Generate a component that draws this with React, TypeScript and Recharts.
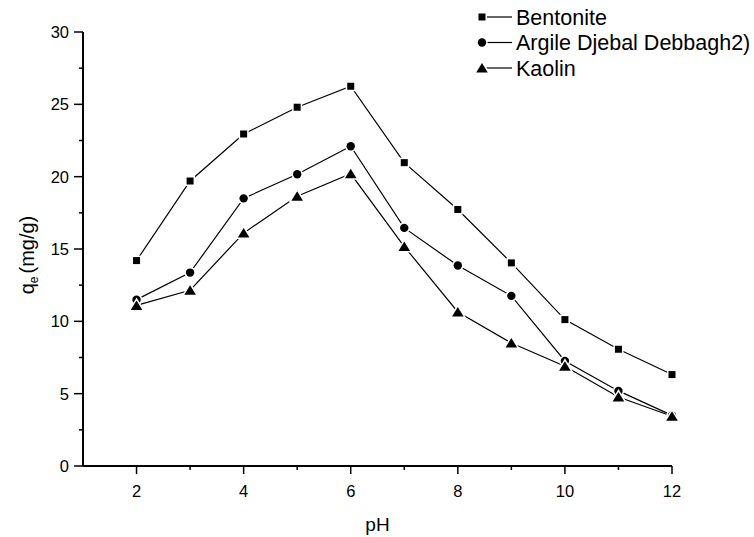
import React from 'react';
import { LineChart, Line, XAxis, YAxis, Legend, Label } from 'recharts';

const phValues = [2, 3, 4, 5, 6, 7, 8, 9, 10, 11, 12];
const bentonite = [14.2, 19.7, 22.95, 24.8, 26.25, 20.97, 17.73, 14.04, 10.12, 8.07, 6.32];
const argile = [11.5, 13.37, 18.5, 20.17, 22.1, 16.46, 13.86, 11.76, 7.26, 5.19, 3.5];
const kaolin = [11.1, 12.15, 16.1, 18.65, 20.2, 15.17, 10.65, 8.5, 6.9, 4.77, 3.44];

const seriesNames = ['Bentonite', 'Argile Djebal Debbagh2)', 'Kaolin'];
const xTicks = [2, 3, 4, 5, 6, 7, 8, 9, 10, 11, 12];
const yTicks = [0, 2.5, 5, 7.5, 10, 12.5, 15, 17.5, 20, 22.5, 25, 27.5, 30];

const data = phValues.map((ph, i) => ({
    ph,
    bentonite: bentonite[i],
    argile: argile[i],
    kaolin: kaolin[i],
}));

const FONT = '"Liberation Sans", Arial, sans-serif';
const Y_MARGIN = 12;
const X_MARGIN = 12;

// marker shapes, with a white halo so the lines stop short of them
const square = (cx: number, cy: number, key?: any) => (
    <rect key={key} x={cx - 3.5} y={cy - 3.5} width={7} height={7} fill="#000"
        stroke="#fff" strokeWidth={3} paintOrder="stroke" />
);
const circle = (cx: number, cy: number, key?: any) => (
    <circle key={key} cx={cx} cy={cy} r={4.2} fill="#000"
        stroke="#fff" strokeWidth={3} paintOrder="stroke" />
);
const triangle = (cx: number, cy: number, key?: any) => (
    <polygon key={key}
        points={`${cx},${cy - 5} ${cx - 5.8},${cy + 4.5} ${cx + 5.8},${cy + 4.5}`}
        fill="#000" stroke="#fff" strokeWidth={3} paintOrder="stroke" />
);

const markers = [square, circle, triangle];

const makeDot = (shape: typeof square) => (p: any) => {
    if (p.cx == null || p.cy == null) return <g key={p.key} />;
    return shape(p.cx, p.cy, p.key);
};

const YTick = (props: any) => {
    const { x, y, payload } = props;
    const v = payload.value;
    const major = v % 5 === 0;
    const ax = x + Y_MARGIN;
    return (
        <g>
            <line x1={ax - (major ? 9 : 4)} x2={ax} y1={y} y2={y} stroke="#000" strokeWidth={1.5} />
            {major && (
                <text x={ax - 14} y={y} dy="0.36em" textAnchor="end" fontSize={16.5}
                    fontFamily={FONT} fill="#000">{v}</text>
            )}
        </g>
    );
};

const XTick = (props: any) => {
    const { x, y, payload } = props;
    const v = payload.value;
    const major = v % 2 === 0;
    const ay = y - X_MARGIN;
    return (
        <g>
            <line x1={x} x2={x} y1={ay} y2={ay + (major ? 8 : 4)} stroke="#000" strokeWidth={1.5} />
            {major && (
                <text x={x} y={ay + 31} textAnchor="middle" fontSize={16.5}
                    fontFamily={FONT} fill="#000">{v}</text>
            )}
        </g>
    );
};

const LegendBox = () => (
    <svg width={280} height={80}>
        {seriesNames.map((name, i) => {
            const cy = 13 + i * 25.5;
            return (
                <g key={name}>
                    <line x1={8} x2={38} y1={cy} y2={cy} stroke="#000" strokeWidth={1.2} />
                    {markers[i](8, cy)}
                    <text x={42} y={cy} dy="0.36em" fontSize={21.5} fontFamily={FONT} fill="#000">{name}</text>
                </g>
            );
        })}
    </svg>
);

const App: React.FC = () => (
    <div style={{ position: 'absolute', left: 0, top: 0, width: 754, height: 537, background: '#fff' }}>
        <LineChart width={754} height={537} data={data} margin={{ top: 32, right: 82, bottom: 0, left: 0 }}>
            <XAxis dataKey="ph" type="number" domain={[1, 12]} ticks={xTicks} interval={0}
                height={71} tickSize={0} tickMargin={X_MARGIN} tickLine={false} tick={<XTick />}
                axisLine={{ stroke: '#000', strokeWidth: 2 }}>
                <Label content={({ viewBox }: any) => (
                    <text x={viewBox.x + viewBox.width / 2} y={viewBox.y + 65} textAnchor="middle"
                        fontSize={19} fontFamily={FONT} fill="#000">pH</text>
                )} />
            </XAxis>
            <YAxis type="number" domain={[0, 30]} ticks={yTicks} interval={0} width={83}
                tickSize={0} tickMargin={Y_MARGIN} tickLine={false} tick={<YTick />}
                axisLine={{ stroke: '#000', strokeWidth: 2 }}>
                <Label content={({ viewBox }: any) => {
                    const cx = viewBox.x + 34;
                    const cy = viewBox.y + viewBox.height / 2 + 6;
                    return (
                        <text x={cx} y={cy} transform={`rotate(-90, ${cx}, ${cy})`} textAnchor="middle"
                            fontSize={20} fontFamily={FONT} fill="#000">
                            <tspan>q</tspan>
                            <tspan fontSize={12} dy={4}>e</tspan>
                            <tspan dy={-4} dx={3}>(mg/g)</tspan>
                        </text>
                    );
                }} />
            </YAxis>
            <Legend layout="vertical" align="center" verticalAlign="middle"
                wrapperStyle={{ top: 4, left: 474, width: 280, height: 80 }}
                content={() => <LegendBox />} />
            <Line dataKey="bentonite" name={seriesNames[0]} stroke="#000" strokeWidth={1.2}
                dot={makeDot(square)} activeDot={false} isAnimationActive={false} />
            <Line dataKey="argile" name={seriesNames[1]} stroke="#000" strokeWidth={1.2}
                dot={makeDot(circle)} activeDot={false} isAnimationActive={false} />
            <Line dataKey="kaolin" name={seriesNames[2]} stroke="#000" strokeWidth={1.2}
                dot={makeDot(triangle)} activeDot={false} isAnimationActive={false} />
        </LineChart>
    </div>
);

export default App;
